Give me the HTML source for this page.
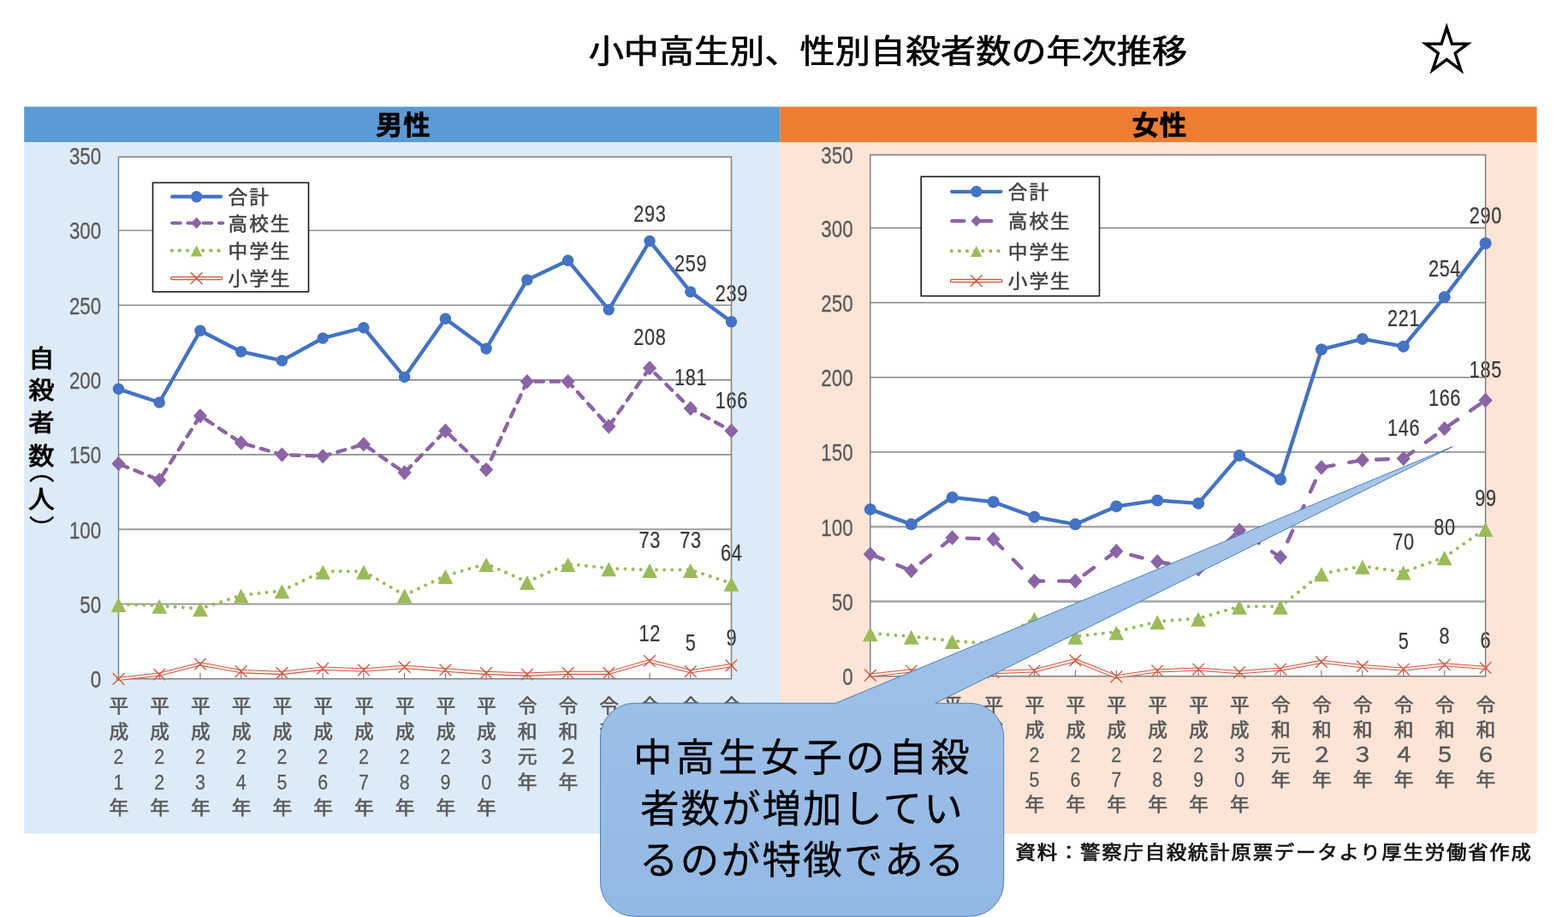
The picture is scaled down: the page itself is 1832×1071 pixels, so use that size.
<!DOCTYPE html>
<html lang="ja">
<head>
<meta charset="utf-8">
<title>小中高生別、性別自殺者数の年次推移</title>
<style>html,body{margin:0;padding:0;background:#fff;}body{width:1832px;height:1071px;overflow:hidden;}svg{display:block;}text{white-space:pre;}</style>
</head>
<body>
<svg width="1832" height="1071" viewBox="0 0 1832 1071">
<defs><linearGradient id="cg" x1="0" y1="0" x2="0" y2="1"><stop offset="0" stop-color="#A8C6EA"/><stop offset="1" stop-color="#92B9E4"/></linearGradient></defs>
<rect width="1832" height="1071" fill="#fff"/>
<text transform="translate(1037.40,72.50) scale(1.0945,1)" text-anchor="middle" font-family='"Liberation Sans", "Noto Sans CJK JP", sans-serif' font-size="37.6" font-weight="normal" fill="#000" stroke="#000" stroke-width="0.7" stroke-linejoin="round">小中高生別、性別自殺者数の年次推移</text>
<text x="1690.2" y="82" text-anchor="middle" font-family='"Liberation Sans", "IPAGothic", "Noto Sans CJK JP", sans-serif' font-size="67" fill="#000">☆</text>
<rect x="28.2" y="124.6" width="883" height="41.6" fill="#5B9BD5"/>
<rect x="28.2" y="166.2" width="883" height="807.3" fill="#DDEBF7"/>
<rect x="911.2" y="124.6" width="884.4" height="41.6" fill="#ED7D31"/>
<rect x="911.2" y="166.2" width="884.4" height="807.3" fill="#FCE4D6"/>
<text transform="translate(471.30,157.20) scale(1.04,1)" text-anchor="middle" font-family='"Liberation Sans", "Noto Sans CJK JP", sans-serif' font-size="30.3" font-weight="bold" fill="#000" letter-spacing="0.8" stroke="#000" stroke-width="0.6">男性</text>
<text transform="translate(1354.80,157.20) scale(1.04,1)" text-anchor="middle" font-family='"Liberation Sans", "Noto Sans CJK JP", sans-serif' font-size="30.3" font-weight="bold" fill="#000" letter-spacing="0.8" stroke="#000" stroke-width="0.6">女性</text>
<g><text transform="translate(48.40,428.70) scale(1.08,1)" text-anchor="middle" font-family='"Liberation Sans", "Noto Sans CJK JP", sans-serif' font-size="28.0" font-weight="normal" fill="#000" stroke="#000" stroke-width="0.95" stroke-linejoin="round">自</text><text transform="translate(48.40,466.30) scale(1.08,1)" text-anchor="middle" font-family='"Liberation Sans", "Noto Sans CJK JP", sans-serif' font-size="28.0" font-weight="normal" fill="#000" stroke="#000" stroke-width="0.95" stroke-linejoin="round">殺</text><text transform="translate(48.40,504.30) scale(1.08,1)" text-anchor="middle" font-family='"Liberation Sans", "Noto Sans CJK JP", sans-serif' font-size="28.0" font-weight="normal" fill="#000" stroke="#000" stroke-width="0.95" stroke-linejoin="round">者</text><text transform="translate(48.40,543.40) scale(1.08,1)" text-anchor="middle" font-family='"Liberation Sans", "Noto Sans CJK JP", sans-serif' font-size="28.0" font-weight="normal" fill="#000" stroke="#000" stroke-width="0.95" stroke-linejoin="round">数</text><text x="46.3" y="533.8" text-anchor="start" style="writing-mode:vertical-rl" font-family='"Liberation Sans", "Noto Sans CJK JP", sans-serif' font-size="29.5" fill="#000" stroke="#000" stroke-width="0.35" stroke-linejoin="round">（</text><text transform="translate(48.40,594.40) scale(1.06,1)" text-anchor="middle" font-family='"Liberation Sans", "Noto Sans CJK JP", sans-serif' font-size="29.0" font-weight="normal" fill="#000" stroke="#000" stroke-width="0.95" stroke-linejoin="round">人</text><text x="46.3" y="602.2" text-anchor="start" style="writing-mode:vertical-rl" font-family='"Liberation Sans", "Noto Sans CJK JP", sans-serif' font-size="29.5" fill="#000" stroke="#000" stroke-width="0.35" stroke-linejoin="round">）</text></g>
<rect x="138.5" y="183.3" width="716.0" height="609.5" fill="#fff"/>
<line x1="138.5" y1="705.52" x2="854.5" y2="705.52" stroke="#9c9c9c" stroke-width="2.1"/>
<line x1="138.5" y1="618.25" x2="854.5" y2="618.25" stroke="#9c9c9c" stroke-width="2.1"/>
<line x1="138.5" y1="530.97" x2="854.5" y2="530.97" stroke="#9c9c9c" stroke-width="2.1"/>
<line x1="138.5" y1="443.70" x2="854.5" y2="443.70" stroke="#7d7d7d" stroke-width="1.4"/>
<line x1="138.5" y1="356.42" x2="854.5" y2="356.42" stroke="#7d7d7d" stroke-width="1.4"/>
<line x1="138.5" y1="269.15" x2="854.5" y2="269.15" stroke="#7d7d7d" stroke-width="1.4"/>
<text transform="translate(118.20,803.10) scale(0.813,1)" text-anchor="end" font-family='"Liberation Sans", "Noto Sans CJK JP", sans-serif' font-size="27.5" fill="#595959" stroke="#595959" stroke-width="0.25" letter-spacing="0">0</text>
<text transform="translate(118.20,715.82) scale(0.813,1)" text-anchor="end" font-family='"Liberation Sans", "Noto Sans CJK JP", sans-serif' font-size="27.5" fill="#595959" stroke="#595959" stroke-width="0.25" letter-spacing="0">50</text>
<text transform="translate(118.20,628.55) scale(0.813,1)" text-anchor="end" font-family='"Liberation Sans", "Noto Sans CJK JP", sans-serif' font-size="27.5" fill="#595959" stroke="#595959" stroke-width="0.25" letter-spacing="0">100</text>
<text transform="translate(118.20,541.27) scale(0.813,1)" text-anchor="end" font-family='"Liberation Sans", "Noto Sans CJK JP", sans-serif' font-size="27.5" fill="#595959" stroke="#595959" stroke-width="0.25" letter-spacing="0">150</text>
<text transform="translate(118.20,454.00) scale(0.813,1)" text-anchor="end" font-family='"Liberation Sans", "Noto Sans CJK JP", sans-serif' font-size="27.5" fill="#595959" stroke="#595959" stroke-width="0.25" letter-spacing="0">200</text>
<text transform="translate(118.20,366.72) scale(0.813,1)" text-anchor="end" font-family='"Liberation Sans", "Noto Sans CJK JP", sans-serif' font-size="27.5" fill="#595959" stroke="#595959" stroke-width="0.25" letter-spacing="0">250</text>
<text transform="translate(118.20,279.45) scale(0.813,1)" text-anchor="end" font-family='"Liberation Sans", "Noto Sans CJK JP", sans-serif' font-size="27.5" fill="#595959" stroke="#595959" stroke-width="0.25" letter-spacing="0">300</text>
<text transform="translate(118.20,192.10) scale(0.813,1)" text-anchor="end" font-family='"Liberation Sans", "Noto Sans CJK JP", sans-serif' font-size="27.5" fill="#595959" stroke="#595959" stroke-width="0.25" letter-spacing="0">350</text>
<g><text transform="translate(138.90,832.30) scale(1.07,1)" text-anchor="middle" font-family='"Liberation Sans", "Noto Sans CJK JP", sans-serif' font-size="21.3" font-weight="normal" fill="#595959" stroke="#595959" stroke-width="0.6">平</text><text transform="translate(138.90,861.85) scale(1.07,1)" text-anchor="middle" font-family='"Liberation Sans", "Noto Sans CJK JP", sans-serif' font-size="21.3" font-weight="normal" fill="#595959" stroke="#595959" stroke-width="0.6">成</text><text transform="translate(138.50,892.10) scale(0.875,1)" text-anchor="middle" font-family='"Liberation Sans", "Noto Sans CJK JP", sans-serif' font-size="24.5" fill="#595959" stroke="#595959" stroke-width="0.25" letter-spacing="0">2</text><text transform="translate(138.50,921.65) scale(0.875,1)" text-anchor="middle" font-family='"Liberation Sans", "Noto Sans CJK JP", sans-serif' font-size="24.5" fill="#595959" stroke="#595959" stroke-width="0.25" letter-spacing="0">1</text><text transform="translate(138.90,950.50) scale(1.07,1)" text-anchor="middle" font-family='"Liberation Sans", "Noto Sans CJK JP", sans-serif' font-size="21.3" font-weight="normal" fill="#595959" stroke="#595959" stroke-width="0.6">年</text></g>
<g><text transform="translate(186.63,832.30) scale(1.07,1)" text-anchor="middle" font-family='"Liberation Sans", "Noto Sans CJK JP", sans-serif' font-size="21.3" font-weight="normal" fill="#595959" stroke="#595959" stroke-width="0.6">平</text><text transform="translate(186.63,861.85) scale(1.07,1)" text-anchor="middle" font-family='"Liberation Sans", "Noto Sans CJK JP", sans-serif' font-size="21.3" font-weight="normal" fill="#595959" stroke="#595959" stroke-width="0.6">成</text><text transform="translate(186.23,892.10) scale(0.875,1)" text-anchor="middle" font-family='"Liberation Sans", "Noto Sans CJK JP", sans-serif' font-size="24.5" fill="#595959" stroke="#595959" stroke-width="0.25" letter-spacing="0">2</text><text transform="translate(186.23,921.65) scale(0.875,1)" text-anchor="middle" font-family='"Liberation Sans", "Noto Sans CJK JP", sans-serif' font-size="24.5" fill="#595959" stroke="#595959" stroke-width="0.25" letter-spacing="0">2</text><text transform="translate(186.63,950.50) scale(1.07,1)" text-anchor="middle" font-family='"Liberation Sans", "Noto Sans CJK JP", sans-serif' font-size="21.3" font-weight="normal" fill="#595959" stroke="#595959" stroke-width="0.6">年</text></g>
<g><text transform="translate(234.37,832.30) scale(1.07,1)" text-anchor="middle" font-family='"Liberation Sans", "Noto Sans CJK JP", sans-serif' font-size="21.3" font-weight="normal" fill="#595959" stroke="#595959" stroke-width="0.6">平</text><text transform="translate(234.37,861.85) scale(1.07,1)" text-anchor="middle" font-family='"Liberation Sans", "Noto Sans CJK JP", sans-serif' font-size="21.3" font-weight="normal" fill="#595959" stroke="#595959" stroke-width="0.6">成</text><text transform="translate(233.97,892.10) scale(0.875,1)" text-anchor="middle" font-family='"Liberation Sans", "Noto Sans CJK JP", sans-serif' font-size="24.5" fill="#595959" stroke="#595959" stroke-width="0.25" letter-spacing="0">2</text><text transform="translate(233.97,921.65) scale(0.875,1)" text-anchor="middle" font-family='"Liberation Sans", "Noto Sans CJK JP", sans-serif' font-size="24.5" fill="#595959" stroke="#595959" stroke-width="0.25" letter-spacing="0">3</text><text transform="translate(234.37,950.50) scale(1.07,1)" text-anchor="middle" font-family='"Liberation Sans", "Noto Sans CJK JP", sans-serif' font-size="21.3" font-weight="normal" fill="#595959" stroke="#595959" stroke-width="0.6">年</text></g>
<g><text transform="translate(282.10,832.30) scale(1.07,1)" text-anchor="middle" font-family='"Liberation Sans", "Noto Sans CJK JP", sans-serif' font-size="21.3" font-weight="normal" fill="#595959" stroke="#595959" stroke-width="0.6">平</text><text transform="translate(282.10,861.85) scale(1.07,1)" text-anchor="middle" font-family='"Liberation Sans", "Noto Sans CJK JP", sans-serif' font-size="21.3" font-weight="normal" fill="#595959" stroke="#595959" stroke-width="0.6">成</text><text transform="translate(281.70,892.10) scale(0.875,1)" text-anchor="middle" font-family='"Liberation Sans", "Noto Sans CJK JP", sans-serif' font-size="24.5" fill="#595959" stroke="#595959" stroke-width="0.25" letter-spacing="0">2</text><text transform="translate(281.70,921.65) scale(0.875,1)" text-anchor="middle" font-family='"Liberation Sans", "Noto Sans CJK JP", sans-serif' font-size="24.5" fill="#595959" stroke="#595959" stroke-width="0.25" letter-spacing="0">4</text><text transform="translate(282.10,950.50) scale(1.07,1)" text-anchor="middle" font-family='"Liberation Sans", "Noto Sans CJK JP", sans-serif' font-size="21.3" font-weight="normal" fill="#595959" stroke="#595959" stroke-width="0.6">年</text></g>
<g><text transform="translate(329.83,832.30) scale(1.07,1)" text-anchor="middle" font-family='"Liberation Sans", "Noto Sans CJK JP", sans-serif' font-size="21.3" font-weight="normal" fill="#595959" stroke="#595959" stroke-width="0.6">平</text><text transform="translate(329.83,861.85) scale(1.07,1)" text-anchor="middle" font-family='"Liberation Sans", "Noto Sans CJK JP", sans-serif' font-size="21.3" font-weight="normal" fill="#595959" stroke="#595959" stroke-width="0.6">成</text><text transform="translate(329.43,892.10) scale(0.875,1)" text-anchor="middle" font-family='"Liberation Sans", "Noto Sans CJK JP", sans-serif' font-size="24.5" fill="#595959" stroke="#595959" stroke-width="0.25" letter-spacing="0">2</text><text transform="translate(329.43,921.65) scale(0.875,1)" text-anchor="middle" font-family='"Liberation Sans", "Noto Sans CJK JP", sans-serif' font-size="24.5" fill="#595959" stroke="#595959" stroke-width="0.25" letter-spacing="0">5</text><text transform="translate(329.83,950.50) scale(1.07,1)" text-anchor="middle" font-family='"Liberation Sans", "Noto Sans CJK JP", sans-serif' font-size="21.3" font-weight="normal" fill="#595959" stroke="#595959" stroke-width="0.6">年</text></g>
<g><text transform="translate(377.57,832.30) scale(1.07,1)" text-anchor="middle" font-family='"Liberation Sans", "Noto Sans CJK JP", sans-serif' font-size="21.3" font-weight="normal" fill="#595959" stroke="#595959" stroke-width="0.6">平</text><text transform="translate(377.57,861.85) scale(1.07,1)" text-anchor="middle" font-family='"Liberation Sans", "Noto Sans CJK JP", sans-serif' font-size="21.3" font-weight="normal" fill="#595959" stroke="#595959" stroke-width="0.6">成</text><text transform="translate(377.17,892.10) scale(0.875,1)" text-anchor="middle" font-family='"Liberation Sans", "Noto Sans CJK JP", sans-serif' font-size="24.5" fill="#595959" stroke="#595959" stroke-width="0.25" letter-spacing="0">2</text><text transform="translate(377.17,921.65) scale(0.875,1)" text-anchor="middle" font-family='"Liberation Sans", "Noto Sans CJK JP", sans-serif' font-size="24.5" fill="#595959" stroke="#595959" stroke-width="0.25" letter-spacing="0">6</text><text transform="translate(377.57,950.50) scale(1.07,1)" text-anchor="middle" font-family='"Liberation Sans", "Noto Sans CJK JP", sans-serif' font-size="21.3" font-weight="normal" fill="#595959" stroke="#595959" stroke-width="0.6">年</text></g>
<g><text transform="translate(425.30,832.30) scale(1.07,1)" text-anchor="middle" font-family='"Liberation Sans", "Noto Sans CJK JP", sans-serif' font-size="21.3" font-weight="normal" fill="#595959" stroke="#595959" stroke-width="0.6">平</text><text transform="translate(425.30,861.85) scale(1.07,1)" text-anchor="middle" font-family='"Liberation Sans", "Noto Sans CJK JP", sans-serif' font-size="21.3" font-weight="normal" fill="#595959" stroke="#595959" stroke-width="0.6">成</text><text transform="translate(424.90,892.10) scale(0.875,1)" text-anchor="middle" font-family='"Liberation Sans", "Noto Sans CJK JP", sans-serif' font-size="24.5" fill="#595959" stroke="#595959" stroke-width="0.25" letter-spacing="0">2</text><text transform="translate(424.90,921.65) scale(0.875,1)" text-anchor="middle" font-family='"Liberation Sans", "Noto Sans CJK JP", sans-serif' font-size="24.5" fill="#595959" stroke="#595959" stroke-width="0.25" letter-spacing="0">7</text><text transform="translate(425.30,950.50) scale(1.07,1)" text-anchor="middle" font-family='"Liberation Sans", "Noto Sans CJK JP", sans-serif' font-size="21.3" font-weight="normal" fill="#595959" stroke="#595959" stroke-width="0.6">年</text></g>
<g><text transform="translate(473.03,832.30) scale(1.07,1)" text-anchor="middle" font-family='"Liberation Sans", "Noto Sans CJK JP", sans-serif' font-size="21.3" font-weight="normal" fill="#595959" stroke="#595959" stroke-width="0.6">平</text><text transform="translate(473.03,861.85) scale(1.07,1)" text-anchor="middle" font-family='"Liberation Sans", "Noto Sans CJK JP", sans-serif' font-size="21.3" font-weight="normal" fill="#595959" stroke="#595959" stroke-width="0.6">成</text><text transform="translate(472.63,892.10) scale(0.875,1)" text-anchor="middle" font-family='"Liberation Sans", "Noto Sans CJK JP", sans-serif' font-size="24.5" fill="#595959" stroke="#595959" stroke-width="0.25" letter-spacing="0">2</text><text transform="translate(472.63,921.65) scale(0.875,1)" text-anchor="middle" font-family='"Liberation Sans", "Noto Sans CJK JP", sans-serif' font-size="24.5" fill="#595959" stroke="#595959" stroke-width="0.25" letter-spacing="0">8</text><text transform="translate(473.03,950.50) scale(1.07,1)" text-anchor="middle" font-family='"Liberation Sans", "Noto Sans CJK JP", sans-serif' font-size="21.3" font-weight="normal" fill="#595959" stroke="#595959" stroke-width="0.6">年</text></g>
<g><text transform="translate(520.77,832.30) scale(1.07,1)" text-anchor="middle" font-family='"Liberation Sans", "Noto Sans CJK JP", sans-serif' font-size="21.3" font-weight="normal" fill="#595959" stroke="#595959" stroke-width="0.6">平</text><text transform="translate(520.77,861.85) scale(1.07,1)" text-anchor="middle" font-family='"Liberation Sans", "Noto Sans CJK JP", sans-serif' font-size="21.3" font-weight="normal" fill="#595959" stroke="#595959" stroke-width="0.6">成</text><text transform="translate(520.37,892.10) scale(0.875,1)" text-anchor="middle" font-family='"Liberation Sans", "Noto Sans CJK JP", sans-serif' font-size="24.5" fill="#595959" stroke="#595959" stroke-width="0.25" letter-spacing="0">2</text><text transform="translate(520.37,921.65) scale(0.875,1)" text-anchor="middle" font-family='"Liberation Sans", "Noto Sans CJK JP", sans-serif' font-size="24.5" fill="#595959" stroke="#595959" stroke-width="0.25" letter-spacing="0">9</text><text transform="translate(520.77,950.50) scale(1.07,1)" text-anchor="middle" font-family='"Liberation Sans", "Noto Sans CJK JP", sans-serif' font-size="21.3" font-weight="normal" fill="#595959" stroke="#595959" stroke-width="0.6">年</text></g>
<g><text transform="translate(568.50,832.30) scale(1.07,1)" text-anchor="middle" font-family='"Liberation Sans", "Noto Sans CJK JP", sans-serif' font-size="21.3" font-weight="normal" fill="#595959" stroke="#595959" stroke-width="0.6">平</text><text transform="translate(568.50,861.85) scale(1.07,1)" text-anchor="middle" font-family='"Liberation Sans", "Noto Sans CJK JP", sans-serif' font-size="21.3" font-weight="normal" fill="#595959" stroke="#595959" stroke-width="0.6">成</text><text transform="translate(568.10,892.10) scale(0.875,1)" text-anchor="middle" font-family='"Liberation Sans", "Noto Sans CJK JP", sans-serif' font-size="24.5" fill="#595959" stroke="#595959" stroke-width="0.25" letter-spacing="0">3</text><text transform="translate(568.10,921.65) scale(0.875,1)" text-anchor="middle" font-family='"Liberation Sans", "Noto Sans CJK JP", sans-serif' font-size="24.5" fill="#595959" stroke="#595959" stroke-width="0.25" letter-spacing="0">0</text><text transform="translate(568.50,950.50) scale(1.07,1)" text-anchor="middle" font-family='"Liberation Sans", "Noto Sans CJK JP", sans-serif' font-size="21.3" font-weight="normal" fill="#595959" stroke="#595959" stroke-width="0.6">年</text></g>
<g><text transform="translate(616.23,832.30) scale(1.07,1)" text-anchor="middle" font-family='"Liberation Sans", "Noto Sans CJK JP", sans-serif' font-size="21.3" font-weight="normal" fill="#595959" stroke="#595959" stroke-width="0.6">令</text><text transform="translate(616.23,861.85) scale(1.07,1)" text-anchor="middle" font-family='"Liberation Sans", "Noto Sans CJK JP", sans-serif' font-size="21.3" font-weight="normal" fill="#595959" stroke="#595959" stroke-width="0.6">和</text><text transform="translate(616.23,891.40) scale(1.07,1)" text-anchor="middle" font-family='"Liberation Sans", "Noto Sans CJK JP", sans-serif' font-size="21.3" font-weight="normal" fill="#595959" stroke="#595959" stroke-width="0.6">元</text><text transform="translate(616.23,920.95) scale(1.07,1)" text-anchor="middle" font-family='"Liberation Sans", "Noto Sans CJK JP", sans-serif' font-size="21.3" font-weight="normal" fill="#595959" stroke="#595959" stroke-width="0.6">年</text></g>
<g><text transform="translate(663.97,832.30) scale(1.07,1)" text-anchor="middle" font-family='"Liberation Sans", "Noto Sans CJK JP", sans-serif' font-size="21.3" font-weight="normal" fill="#595959" stroke="#595959" stroke-width="0.6">令</text><text transform="translate(663.97,861.85) scale(1.07,1)" text-anchor="middle" font-family='"Liberation Sans", "Noto Sans CJK JP", sans-serif' font-size="21.3" font-weight="normal" fill="#595959" stroke="#595959" stroke-width="0.6">和</text><text transform="translate(663.97,892.00) scale(1.07,1)" text-anchor="middle" font-family='"Liberation Sans", "Noto Sans CJK JP", sans-serif' font-size="24.069" font-weight="normal" fill="#595959" stroke="#595959" stroke-width="0.55">２</text><text transform="translate(663.97,920.95) scale(1.07,1)" text-anchor="middle" font-family='"Liberation Sans", "Noto Sans CJK JP", sans-serif' font-size="21.3" font-weight="normal" fill="#595959" stroke="#595959" stroke-width="0.6">年</text></g>
<g><text transform="translate(711.70,832.30) scale(1.07,1)" text-anchor="middle" font-family='"Liberation Sans", "Noto Sans CJK JP", sans-serif' font-size="21.3" font-weight="normal" fill="#595959" stroke="#595959" stroke-width="0.6">令</text><text transform="translate(711.70,861.85) scale(1.07,1)" text-anchor="middle" font-family='"Liberation Sans", "Noto Sans CJK JP", sans-serif' font-size="21.3" font-weight="normal" fill="#595959" stroke="#595959" stroke-width="0.6">和</text><text transform="translate(711.70,892.00) scale(1.07,1)" text-anchor="middle" font-family='"Liberation Sans", "Noto Sans CJK JP", sans-serif' font-size="24.069" font-weight="normal" fill="#595959" stroke="#595959" stroke-width="0.55">３</text><text transform="translate(711.70,920.95) scale(1.07,1)" text-anchor="middle" font-family='"Liberation Sans", "Noto Sans CJK JP", sans-serif' font-size="21.3" font-weight="normal" fill="#595959" stroke="#595959" stroke-width="0.6">年</text></g>
<g><text transform="translate(759.43,832.30) scale(1.07,1)" text-anchor="middle" font-family='"Liberation Sans", "Noto Sans CJK JP", sans-serif' font-size="21.3" font-weight="normal" fill="#595959" stroke="#595959" stroke-width="0.6">令</text><text transform="translate(759.43,861.85) scale(1.07,1)" text-anchor="middle" font-family='"Liberation Sans", "Noto Sans CJK JP", sans-serif' font-size="21.3" font-weight="normal" fill="#595959" stroke="#595959" stroke-width="0.6">和</text><text transform="translate(759.43,892.00) scale(1.07,1)" text-anchor="middle" font-family='"Liberation Sans", "Noto Sans CJK JP", sans-serif' font-size="24.069" font-weight="normal" fill="#595959" stroke="#595959" stroke-width="0.55">４</text><text transform="translate(759.43,920.95) scale(1.07,1)" text-anchor="middle" font-family='"Liberation Sans", "Noto Sans CJK JP", sans-serif' font-size="21.3" font-weight="normal" fill="#595959" stroke="#595959" stroke-width="0.6">年</text></g>
<g><text transform="translate(807.17,832.30) scale(1.07,1)" text-anchor="middle" font-family='"Liberation Sans", "Noto Sans CJK JP", sans-serif' font-size="21.3" font-weight="normal" fill="#595959" stroke="#595959" stroke-width="0.6">令</text><text transform="translate(807.17,861.85) scale(1.07,1)" text-anchor="middle" font-family='"Liberation Sans", "Noto Sans CJK JP", sans-serif' font-size="21.3" font-weight="normal" fill="#595959" stroke="#595959" stroke-width="0.6">和</text><text transform="translate(807.17,892.00) scale(1.07,1)" text-anchor="middle" font-family='"Liberation Sans", "Noto Sans CJK JP", sans-serif' font-size="24.069" font-weight="normal" fill="#595959" stroke="#595959" stroke-width="0.55">５</text><text transform="translate(807.17,920.95) scale(1.07,1)" text-anchor="middle" font-family='"Liberation Sans", "Noto Sans CJK JP", sans-serif' font-size="21.3" font-weight="normal" fill="#595959" stroke="#595959" stroke-width="0.6">年</text></g>
<g><text transform="translate(854.90,832.30) scale(1.07,1)" text-anchor="middle" font-family='"Liberation Sans", "Noto Sans CJK JP", sans-serif' font-size="21.3" font-weight="normal" fill="#595959" stroke="#595959" stroke-width="0.6">令</text><text transform="translate(854.90,861.85) scale(1.07,1)" text-anchor="middle" font-family='"Liberation Sans", "Noto Sans CJK JP", sans-serif' font-size="21.3" font-weight="normal" fill="#595959" stroke="#595959" stroke-width="0.6">和</text><text transform="translate(854.90,892.00) scale(1.07,1)" text-anchor="middle" font-family='"Liberation Sans", "Noto Sans CJK JP", sans-serif' font-size="24.069" font-weight="normal" fill="#595959" stroke="#595959" stroke-width="0.55">６</text><text transform="translate(854.90,920.95) scale(1.07,1)" text-anchor="middle" font-family='"Liberation Sans", "Noto Sans CJK JP", sans-serif' font-size="21.3" font-weight="normal" fill="#595959" stroke="#595959" stroke-width="0.6">年</text></g>
<text transform="translate(759.33,258.85) scale(0.79,1)" text-anchor="middle" font-family='"Liberation Sans", "Noto Sans CJK JP", sans-serif' font-size="27.5" fill="#3a3a3a" stroke="#3a3a3a" stroke-width="0.25" letter-spacing="0.8">293</text>
<text transform="translate(807.07,317.40) scale(0.79,1)" text-anchor="middle" font-family='"Liberation Sans", "Noto Sans CJK JP", sans-serif' font-size="27.5" fill="#3a3a3a" stroke="#3a3a3a" stroke-width="0.25" letter-spacing="0.8">259</text>
<text transform="translate(854.80,352.20) scale(0.79,1)" text-anchor="middle" font-family='"Liberation Sans", "Noto Sans CJK JP", sans-serif' font-size="27.5" fill="#3a3a3a" stroke="#3a3a3a" stroke-width="0.25" letter-spacing="0.8">239</text>
<text transform="translate(759.33,403.20) scale(0.79,1)" text-anchor="middle" font-family='"Liberation Sans", "Noto Sans CJK JP", sans-serif' font-size="27.5" fill="#3a3a3a" stroke="#3a3a3a" stroke-width="0.25" letter-spacing="0.8">208</text>
<text transform="translate(807.07,450.40) scale(0.79,1)" text-anchor="middle" font-family='"Liberation Sans", "Noto Sans CJK JP", sans-serif' font-size="27.5" fill="#3a3a3a" stroke="#3a3a3a" stroke-width="0.25" letter-spacing="0.8">181</text>
<text transform="translate(854.80,476.80) scale(0.79,1)" text-anchor="middle" font-family='"Liberation Sans", "Noto Sans CJK JP", sans-serif' font-size="27.5" fill="#3a3a3a" stroke="#3a3a3a" stroke-width="0.25" letter-spacing="0.8">166</text>
<text transform="translate(759.33,639.50) scale(0.79,1)" text-anchor="middle" font-family='"Liberation Sans", "Noto Sans CJK JP", sans-serif' font-size="27.5" fill="#3a3a3a" stroke="#3a3a3a" stroke-width="0.25" letter-spacing="0.8">73</text>
<text transform="translate(807.07,639.50) scale(0.79,1)" text-anchor="middle" font-family='"Liberation Sans", "Noto Sans CJK JP", sans-serif' font-size="27.5" fill="#3a3a3a" stroke="#3a3a3a" stroke-width="0.25" letter-spacing="0.8">73</text>
<text transform="translate(854.80,655.20) scale(0.79,1)" text-anchor="middle" font-family='"Liberation Sans", "Noto Sans CJK JP", sans-serif' font-size="27.5" fill="#3a3a3a" stroke="#3a3a3a" stroke-width="0.25" letter-spacing="0.8">64</text>
<text transform="translate(759.33,749.00) scale(0.79,1)" text-anchor="middle" font-family='"Liberation Sans", "Noto Sans CJK JP", sans-serif' font-size="27.5" fill="#3a3a3a" stroke="#3a3a3a" stroke-width="0.25" letter-spacing="0.8">12</text>
<text transform="translate(807.07,759.80) scale(0.79,1)" text-anchor="middle" font-family='"Liberation Sans", "Noto Sans CJK JP", sans-serif' font-size="27.5" fill="#3a3a3a" stroke="#3a3a3a" stroke-width="0.25" letter-spacing="0.8">5</text>
<text transform="translate(854.80,753.60) scale(0.79,1)" text-anchor="middle" font-family='"Liberation Sans", "Noto Sans CJK JP", sans-serif' font-size="27.5" fill="#3a3a3a" stroke="#3a3a3a" stroke-width="0.25" letter-spacing="0.8">9</text>
<rect x="138.5" y="183.3" width="716.0" height="609.5" fill="none" stroke="#808080" stroke-width="1.5"/>
<line x1="186.23" y1="792.8" x2="186.23" y2="785.8" stroke="#707070" stroke-width="1.1"/>
<line x1="233.97" y1="792.8" x2="233.97" y2="785.8" stroke="#707070" stroke-width="1.1"/>
<line x1="281.70" y1="792.8" x2="281.70" y2="785.8" stroke="#707070" stroke-width="1.1"/>
<line x1="329.43" y1="792.8" x2="329.43" y2="785.8" stroke="#707070" stroke-width="1.1"/>
<line x1="377.17" y1="792.8" x2="377.17" y2="785.8" stroke="#707070" stroke-width="1.1"/>
<line x1="424.90" y1="792.8" x2="424.90" y2="785.8" stroke="#707070" stroke-width="1.1"/>
<line x1="472.63" y1="792.8" x2="472.63" y2="785.8" stroke="#707070" stroke-width="1.1"/>
<line x1="520.37" y1="792.8" x2="520.37" y2="785.8" stroke="#707070" stroke-width="1.1"/>
<line x1="568.10" y1="792.8" x2="568.10" y2="785.8" stroke="#707070" stroke-width="1.1"/>
<line x1="615.83" y1="792.8" x2="615.83" y2="785.8" stroke="#707070" stroke-width="1.1"/>
<line x1="663.57" y1="792.8" x2="663.57" y2="785.8" stroke="#707070" stroke-width="1.1"/>
<line x1="711.30" y1="792.8" x2="711.30" y2="785.8" stroke="#707070" stroke-width="1.1"/>
<line x1="759.03" y1="792.8" x2="759.03" y2="785.8" stroke="#707070" stroke-width="1.1"/>
<line x1="806.77" y1="792.8" x2="806.77" y2="785.8" stroke="#707070" stroke-width="1.1"/>
<polyline points="138.50,454.32 186.23,470.03 233.97,386.25 281.70,410.69 329.43,421.16 377.17,394.98 424.90,382.76 472.63,440.36 520.37,372.28 568.10,407.19 615.83,326.90 663.57,304.21 711.30,361.81 759.03,281.52 806.77,340.87 854.50,375.78" fill="none" stroke="#4472C4" stroke-width="4.35" stroke-linejoin="round" stroke-linecap="round"/>
<circle cx="138.50" cy="454.32" r="6.7" fill="#4472C4"/>
<circle cx="186.23" cy="470.03" r="6.7" fill="#4472C4"/>
<circle cx="233.97" cy="386.25" r="6.7" fill="#4472C4"/>
<circle cx="281.70" cy="410.69" r="6.7" fill="#4472C4"/>
<circle cx="329.43" cy="421.16" r="6.7" fill="#4472C4"/>
<circle cx="377.17" cy="394.98" r="6.7" fill="#4472C4"/>
<circle cx="424.90" cy="382.76" r="6.7" fill="#4472C4"/>
<circle cx="472.63" cy="440.36" r="6.7" fill="#4472C4"/>
<circle cx="520.37" cy="372.28" r="6.7" fill="#4472C4"/>
<circle cx="568.10" cy="407.19" r="6.7" fill="#4472C4"/>
<circle cx="615.83" cy="326.90" r="6.7" fill="#4472C4"/>
<circle cx="663.57" cy="304.21" r="6.7" fill="#4472C4"/>
<circle cx="711.30" cy="361.81" r="6.7" fill="#4472C4"/>
<circle cx="759.03" cy="281.52" r="6.7" fill="#4472C4"/>
<circle cx="806.77" cy="340.87" r="6.7" fill="#4472C4"/>
<circle cx="854.50" cy="375.78" r="6.7" fill="#4472C4"/>
<polyline points="138.50,541.60 186.23,560.80 233.97,485.74 281.70,517.16 329.43,531.12 377.17,532.87 424.90,518.91 472.63,552.07 520.37,503.20 568.10,548.58 615.83,445.60 663.57,445.60 711.30,497.96 759.03,429.89 806.77,477.01 854.50,503.20" fill="none" stroke="#8B64A6" stroke-width="4.35" stroke-linejoin="round" stroke-linecap="round" stroke-dasharray="9.36 8.92" stroke-dashoffset="-2.17"/>
<polygon points="138.50,532.90 146.60,541.60 138.50,550.30 130.40,541.60" fill="#8B64A6"/>
<polygon points="186.23,552.10 194.33,560.80 186.23,569.50 178.13,560.80" fill="#8B64A6"/>
<polygon points="233.97,477.04 242.07,485.74 233.97,494.44 225.87,485.74" fill="#8B64A6"/>
<polygon points="281.70,508.46 289.80,517.16 281.70,525.86 273.60,517.16" fill="#8B64A6"/>
<polygon points="329.43,522.42 337.53,531.12 329.43,539.82 321.33,531.12" fill="#8B64A6"/>
<polygon points="377.17,524.17 385.27,532.87 377.17,541.57 369.07,532.87" fill="#8B64A6"/>
<polygon points="424.90,510.21 433.00,518.91 424.90,527.61 416.80,518.91" fill="#8B64A6"/>
<polygon points="472.63,543.37 480.73,552.07 472.63,560.77 464.53,552.07" fill="#8B64A6"/>
<polygon points="520.37,494.50 528.47,503.20 520.37,511.90 512.27,503.20" fill="#8B64A6"/>
<polygon points="568.10,539.88 576.20,548.58 568.10,557.28 560.00,548.58" fill="#8B64A6"/>
<polygon points="615.83,436.90 623.93,445.60 615.83,454.30 607.73,445.60" fill="#8B64A6"/>
<polygon points="663.57,436.90 671.67,445.60 663.57,454.30 655.47,445.60" fill="#8B64A6"/>
<polygon points="711.30,489.26 719.40,497.96 711.30,506.66 703.20,497.96" fill="#8B64A6"/>
<polygon points="759.03,421.19 767.13,429.89 759.03,438.59 750.93,429.89" fill="#8B64A6"/>
<polygon points="806.77,468.31 814.87,477.01 806.77,485.71 798.67,477.01" fill="#8B64A6"/>
<polygon points="854.50,494.50 862.60,503.20 854.50,511.90 846.40,503.20" fill="#8B64A6"/>
<polyline points="138.50,705.67 186.23,707.42 233.97,710.91 281.70,695.20 329.43,689.97 377.17,667.27 424.90,667.27 472.63,695.20 520.37,672.51 568.10,658.55 615.83,679.49 663.57,658.55 711.30,663.78 759.03,665.53 806.77,665.53 854.50,681.24" fill="none" stroke="#9BBB59" stroke-width="4.0" stroke-linejoin="round" stroke-linecap="round" stroke-dasharray="0.01 9.13" stroke-dashoffset="-2.28"/>
<polygon points="138.50,698.07 147.40,715.07 129.60,715.07" fill="#9BBB59"/>
<polygon points="186.23,699.82 195.13,716.82 177.33,716.82" fill="#9BBB59"/>
<polygon points="233.97,703.31 242.87,720.31 225.07,720.31" fill="#9BBB59"/>
<polygon points="281.70,687.60 290.60,704.60 272.80,704.60" fill="#9BBB59"/>
<polygon points="329.43,682.37 338.33,699.37 320.53,699.37" fill="#9BBB59"/>
<polygon points="377.17,659.67 386.07,676.67 368.27,676.67" fill="#9BBB59"/>
<polygon points="424.90,659.67 433.80,676.67 416.00,676.67" fill="#9BBB59"/>
<polygon points="472.63,687.60 481.53,704.60 463.73,704.60" fill="#9BBB59"/>
<polygon points="520.37,664.91 529.27,681.91 511.47,681.91" fill="#9BBB59"/>
<polygon points="568.10,650.95 577.00,667.95 559.20,667.95" fill="#9BBB59"/>
<polygon points="615.83,671.89 624.73,688.89 606.93,688.89" fill="#9BBB59"/>
<polygon points="663.57,650.95 672.47,667.95 654.67,667.95" fill="#9BBB59"/>
<polygon points="711.30,656.18 720.20,673.18 702.40,673.18" fill="#9BBB59"/>
<polygon points="759.03,657.93 767.93,674.93 750.13,674.93" fill="#9BBB59"/>
<polygon points="806.77,657.93 815.67,674.93 797.87,674.93" fill="#9BBB59"/>
<polygon points="854.50,673.64 863.40,690.64 845.60,690.64" fill="#9BBB59"/>
<polyline points="138.50,792.95 186.23,787.71 233.97,775.49 281.70,784.22 329.43,785.97 377.17,780.73 424.90,782.48 472.63,778.99 520.37,782.48 568.10,785.97 615.83,787.71 663.57,785.97 711.30,785.97 759.03,772.00 806.77,784.22 854.50,777.24" fill="none" stroke="#D25A43" stroke-width="4.35" stroke-linejoin="round" stroke-linecap="round"/>
<polyline points="138.50,792.95 186.23,787.71 233.97,775.49 281.70,784.22 329.43,785.97 377.17,780.73 424.90,782.48 472.63,778.99 520.37,782.48 568.10,785.97 615.83,787.71 663.57,785.97 711.30,785.97 759.03,772.00 806.77,784.22 854.50,777.24" fill="none" stroke="#FCEDE8" stroke-width="2.3" stroke-linejoin="round" stroke-linecap="round"/>
<path d="M131.70 786.15L145.30 799.75M131.70 799.75L145.30 786.15" stroke="#D25A43" stroke-width="1.4" fill="none"/>
<path d="M179.43 780.91L193.03 794.51M179.43 794.51L193.03 780.91" stroke="#D25A43" stroke-width="1.4" fill="none"/>
<path d="M227.17 768.69L240.77 782.29M227.17 782.29L240.77 768.69" stroke="#D25A43" stroke-width="1.4" fill="none"/>
<path d="M274.90 777.42L288.50 791.02M274.90 791.02L288.50 777.42" stroke="#D25A43" stroke-width="1.4" fill="none"/>
<path d="M322.63 779.17L336.23 792.77M322.63 792.77L336.23 779.17" stroke="#D25A43" stroke-width="1.4" fill="none"/>
<path d="M370.37 773.93L383.97 787.53M370.37 787.53L383.97 773.93" stroke="#D25A43" stroke-width="1.4" fill="none"/>
<path d="M418.10 775.68L431.70 789.28M418.10 789.28L431.70 775.68" stroke="#D25A43" stroke-width="1.4" fill="none"/>
<path d="M465.83 772.19L479.43 785.79M465.83 785.79L479.43 772.19" stroke="#D25A43" stroke-width="1.4" fill="none"/>
<path d="M513.57 775.68L527.17 789.28M513.57 789.28L527.17 775.68" stroke="#D25A43" stroke-width="1.4" fill="none"/>
<path d="M561.30 779.17L574.90 792.77M561.30 792.77L574.90 779.17" stroke="#D25A43" stroke-width="1.4" fill="none"/>
<path d="M609.03 780.91L622.63 794.51M609.03 794.51L622.63 780.91" stroke="#D25A43" stroke-width="1.4" fill="none"/>
<path d="M656.77 779.17L670.37 792.77M656.77 792.77L670.37 779.17" stroke="#D25A43" stroke-width="1.4" fill="none"/>
<path d="M704.50 779.17L718.10 792.77M704.50 792.77L718.10 779.17" stroke="#D25A43" stroke-width="1.4" fill="none"/>
<path d="M752.23 765.20L765.83 778.80M752.23 778.80L765.83 765.20" stroke="#D25A43" stroke-width="1.4" fill="none"/>
<path d="M799.97 777.42L813.57 791.02M799.97 791.02L813.57 777.42" stroke="#D25A43" stroke-width="1.4" fill="none"/>
<path d="M847.70 770.44L861.30 784.04M847.70 784.04L861.30 770.44" stroke="#D25A43" stroke-width="1.4" fill="none"/>
<rect x="178.5" y="213.4" width="182.0" height="127.4" fill="#fff" stroke="#1a1a1a" stroke-width="1.6"/>
<line x1="201.1" y1="229.7" x2="258.09999999999997" y2="229.7" stroke="#4472C4" stroke-width="4.2" stroke-linecap="round"/>
<circle cx="229.6" cy="229.7" r="6.7" fill="#4472C4"/>
<line x1="199" y1="260.5" x2="260.2" y2="260.5" stroke="#8B64A6" stroke-width="4.2" stroke-linecap="round" stroke-dasharray="9.5 8.8" stroke-dashoffset="-2.2"/>
<polygon points="229.6,253.8 235.79999999999998,260.5 229.6,267.2 223.4,260.5" fill="#8B64A6"/>
<line x1="199" y1="292.7" x2="260.2" y2="292.7" stroke="#9BBB59" stroke-width="4.2" stroke-linecap="round" stroke-dasharray="0.01 9.1" stroke-dashoffset="-1.8"/>
<polygon points="229.6,286.5 236.29999999999998,299.5 222.9,299.5" fill="#9BBB59"/>
<line x1="201.1" y1="325.0" x2="258.09999999999997" y2="325.0" stroke="#D25A43" stroke-width="4.6" stroke-linecap="round"/>
<line x1="201.1" y1="325.0" x2="258.09999999999997" y2="325.0" stroke="#F8DDD5" stroke-width="2.0" stroke-linecap="round"/>
<path d="M222.79999999999998 318.2L236.4 331.8M222.79999999999998 331.8L236.4 318.2" stroke="#D25A43" stroke-width="1.5" fill="none"/>
<text transform="translate(266.60,238.00) scale(1.07,1)" text-anchor="start" font-family='"Liberation Sans", "Noto Sans CJK JP", sans-serif' font-size="21.2" font-weight="normal" fill="#404040" letter-spacing="1.8" stroke="#404040" stroke-width="0.5">合計</text>
<text transform="translate(266.60,268.80) scale(1.07,1)" text-anchor="start" font-family='"Liberation Sans", "Noto Sans CJK JP", sans-serif' font-size="21.2" font-weight="normal" fill="#404040" letter-spacing="1.8" stroke="#404040" stroke-width="0.5">高校生</text>
<text transform="translate(266.60,301.00) scale(1.07,1)" text-anchor="start" font-family='"Liberation Sans", "Noto Sans CJK JP", sans-serif' font-size="21.2" font-weight="normal" fill="#404040" letter-spacing="1.8" stroke="#404040" stroke-width="0.5">中学生</text>
<text transform="translate(266.60,333.30) scale(1.07,1)" text-anchor="start" font-family='"Liberation Sans", "Noto Sans CJK JP", sans-serif' font-size="21.2" font-weight="normal" fill="#404040" letter-spacing="1.8" stroke="#404040" stroke-width="0.5">小学生</text>
<rect x="1016.8" y="180.9" width="718.8" height="608.9" fill="#fff"/>
<line x1="1016.8" y1="702.52" x2="1735.6" y2="702.52" stroke="#a6a6a6" stroke-width="2.3"/>
<line x1="1016.8" y1="615.25" x2="1735.6" y2="615.25" stroke="#a6a6a6" stroke-width="2.3"/>
<line x1="1016.8" y1="527.97" x2="1735.6" y2="527.97" stroke="#858585" stroke-width="1.5"/>
<line x1="1016.8" y1="440.70" x2="1735.6" y2="440.70" stroke="#858585" stroke-width="1.5"/>
<line x1="1016.8" y1="353.42" x2="1735.6" y2="353.42" stroke="#858585" stroke-width="1.5"/>
<line x1="1016.8" y1="266.15" x2="1735.6" y2="266.15" stroke="#858585" stroke-width="1.5"/>
<text transform="translate(996.60,800.20) scale(0.813,1)" text-anchor="end" font-family='"Liberation Sans", "Noto Sans CJK JP", sans-serif' font-size="27.5" fill="#595959" stroke="#595959" stroke-width="0.25" letter-spacing="0">0</text>
<text transform="translate(996.60,712.92) scale(0.813,1)" text-anchor="end" font-family='"Liberation Sans", "Noto Sans CJK JP", sans-serif' font-size="27.5" fill="#595959" stroke="#595959" stroke-width="0.25" letter-spacing="0">50</text>
<text transform="translate(996.60,625.65) scale(0.813,1)" text-anchor="end" font-family='"Liberation Sans", "Noto Sans CJK JP", sans-serif' font-size="27.5" fill="#595959" stroke="#595959" stroke-width="0.25" letter-spacing="0">100</text>
<text transform="translate(996.60,538.37) scale(0.813,1)" text-anchor="end" font-family='"Liberation Sans", "Noto Sans CJK JP", sans-serif' font-size="27.5" fill="#595959" stroke="#595959" stroke-width="0.25" letter-spacing="0">150</text>
<text transform="translate(996.60,451.10) scale(0.813,1)" text-anchor="end" font-family='"Liberation Sans", "Noto Sans CJK JP", sans-serif' font-size="27.5" fill="#595959" stroke="#595959" stroke-width="0.25" letter-spacing="0">200</text>
<text transform="translate(996.60,363.82) scale(0.813,1)" text-anchor="end" font-family='"Liberation Sans", "Noto Sans CJK JP", sans-serif' font-size="27.5" fill="#595959" stroke="#595959" stroke-width="0.25" letter-spacing="0">250</text>
<text transform="translate(996.60,276.55) scale(0.813,1)" text-anchor="end" font-family='"Liberation Sans", "Noto Sans CJK JP", sans-serif' font-size="27.5" fill="#595959" stroke="#595959" stroke-width="0.25" letter-spacing="0">300</text>
<text transform="translate(996.60,190.50) scale(0.813,1)" text-anchor="end" font-family='"Liberation Sans", "Noto Sans CJK JP", sans-serif' font-size="27.5" fill="#595959" stroke="#595959" stroke-width="0.25" letter-spacing="0">350</text>
<g><text transform="translate(1017.20,830.60) scale(1.07,1)" text-anchor="middle" font-family='"Liberation Sans", "Noto Sans CJK JP", sans-serif' font-size="21.3" font-weight="normal" fill="#595959" stroke="#595959" stroke-width="0.6">平</text><text transform="translate(1017.20,859.80) scale(1.07,1)" text-anchor="middle" font-family='"Liberation Sans", "Noto Sans CJK JP", sans-serif' font-size="21.3" font-weight="normal" fill="#595959" stroke="#595959" stroke-width="0.6">成</text><text transform="translate(1016.80,889.70) scale(0.875,1)" text-anchor="middle" font-family='"Liberation Sans", "Noto Sans CJK JP", sans-serif' font-size="24.5" fill="#595959" stroke="#595959" stroke-width="0.25" letter-spacing="0">2</text><text transform="translate(1016.80,918.90) scale(0.875,1)" text-anchor="middle" font-family='"Liberation Sans", "Noto Sans CJK JP", sans-serif' font-size="24.5" fill="#595959" stroke="#595959" stroke-width="0.25" letter-spacing="0">1</text><text transform="translate(1017.20,947.40) scale(1.07,1)" text-anchor="middle" font-family='"Liberation Sans", "Noto Sans CJK JP", sans-serif' font-size="21.3" font-weight="normal" fill="#595959" stroke="#595959" stroke-width="0.6">年</text></g>
<g><text transform="translate(1065.12,830.60) scale(1.07,1)" text-anchor="middle" font-family='"Liberation Sans", "Noto Sans CJK JP", sans-serif' font-size="21.3" font-weight="normal" fill="#595959" stroke="#595959" stroke-width="0.6">平</text><text transform="translate(1065.12,859.80) scale(1.07,1)" text-anchor="middle" font-family='"Liberation Sans", "Noto Sans CJK JP", sans-serif' font-size="21.3" font-weight="normal" fill="#595959" stroke="#595959" stroke-width="0.6">成</text><text transform="translate(1064.72,889.70) scale(0.875,1)" text-anchor="middle" font-family='"Liberation Sans", "Noto Sans CJK JP", sans-serif' font-size="24.5" fill="#595959" stroke="#595959" stroke-width="0.25" letter-spacing="0">2</text><text transform="translate(1064.72,918.90) scale(0.875,1)" text-anchor="middle" font-family='"Liberation Sans", "Noto Sans CJK JP", sans-serif' font-size="24.5" fill="#595959" stroke="#595959" stroke-width="0.25" letter-spacing="0">2</text><text transform="translate(1065.12,947.40) scale(1.07,1)" text-anchor="middle" font-family='"Liberation Sans", "Noto Sans CJK JP", sans-serif' font-size="21.3" font-weight="normal" fill="#595959" stroke="#595959" stroke-width="0.6">年</text></g>
<g><text transform="translate(1113.04,830.60) scale(1.07,1)" text-anchor="middle" font-family='"Liberation Sans", "Noto Sans CJK JP", sans-serif' font-size="21.3" font-weight="normal" fill="#595959" stroke="#595959" stroke-width="0.6">平</text><text transform="translate(1113.04,859.80) scale(1.07,1)" text-anchor="middle" font-family='"Liberation Sans", "Noto Sans CJK JP", sans-serif' font-size="21.3" font-weight="normal" fill="#595959" stroke="#595959" stroke-width="0.6">成</text><text transform="translate(1112.64,889.70) scale(0.875,1)" text-anchor="middle" font-family='"Liberation Sans", "Noto Sans CJK JP", sans-serif' font-size="24.5" fill="#595959" stroke="#595959" stroke-width="0.25" letter-spacing="0">2</text><text transform="translate(1112.64,918.90) scale(0.875,1)" text-anchor="middle" font-family='"Liberation Sans", "Noto Sans CJK JP", sans-serif' font-size="24.5" fill="#595959" stroke="#595959" stroke-width="0.25" letter-spacing="0">3</text><text transform="translate(1113.04,947.40) scale(1.07,1)" text-anchor="middle" font-family='"Liberation Sans", "Noto Sans CJK JP", sans-serif' font-size="21.3" font-weight="normal" fill="#595959" stroke="#595959" stroke-width="0.6">年</text></g>
<g><text transform="translate(1160.96,830.60) scale(1.07,1)" text-anchor="middle" font-family='"Liberation Sans", "Noto Sans CJK JP", sans-serif' font-size="21.3" font-weight="normal" fill="#595959" stroke="#595959" stroke-width="0.6">平</text><text transform="translate(1160.96,859.80) scale(1.07,1)" text-anchor="middle" font-family='"Liberation Sans", "Noto Sans CJK JP", sans-serif' font-size="21.3" font-weight="normal" fill="#595959" stroke="#595959" stroke-width="0.6">成</text><text transform="translate(1160.56,889.70) scale(0.875,1)" text-anchor="middle" font-family='"Liberation Sans", "Noto Sans CJK JP", sans-serif' font-size="24.5" fill="#595959" stroke="#595959" stroke-width="0.25" letter-spacing="0">2</text><text transform="translate(1160.56,918.90) scale(0.875,1)" text-anchor="middle" font-family='"Liberation Sans", "Noto Sans CJK JP", sans-serif' font-size="24.5" fill="#595959" stroke="#595959" stroke-width="0.25" letter-spacing="0">4</text><text transform="translate(1160.96,947.40) scale(1.07,1)" text-anchor="middle" font-family='"Liberation Sans", "Noto Sans CJK JP", sans-serif' font-size="21.3" font-weight="normal" fill="#595959" stroke="#595959" stroke-width="0.6">年</text></g>
<g><text transform="translate(1208.88,830.60) scale(1.07,1)" text-anchor="middle" font-family='"Liberation Sans", "Noto Sans CJK JP", sans-serif' font-size="21.3" font-weight="normal" fill="#595959" stroke="#595959" stroke-width="0.6">平</text><text transform="translate(1208.88,859.80) scale(1.07,1)" text-anchor="middle" font-family='"Liberation Sans", "Noto Sans CJK JP", sans-serif' font-size="21.3" font-weight="normal" fill="#595959" stroke="#595959" stroke-width="0.6">成</text><text transform="translate(1208.48,889.70) scale(0.875,1)" text-anchor="middle" font-family='"Liberation Sans", "Noto Sans CJK JP", sans-serif' font-size="24.5" fill="#595959" stroke="#595959" stroke-width="0.25" letter-spacing="0">2</text><text transform="translate(1208.48,918.90) scale(0.875,1)" text-anchor="middle" font-family='"Liberation Sans", "Noto Sans CJK JP", sans-serif' font-size="24.5" fill="#595959" stroke="#595959" stroke-width="0.25" letter-spacing="0">5</text><text transform="translate(1208.88,947.40) scale(1.07,1)" text-anchor="middle" font-family='"Liberation Sans", "Noto Sans CJK JP", sans-serif' font-size="21.3" font-weight="normal" fill="#595959" stroke="#595959" stroke-width="0.6">年</text></g>
<g><text transform="translate(1256.80,830.60) scale(1.07,1)" text-anchor="middle" font-family='"Liberation Sans", "Noto Sans CJK JP", sans-serif' font-size="21.3" font-weight="normal" fill="#595959" stroke="#595959" stroke-width="0.6">平</text><text transform="translate(1256.80,859.80) scale(1.07,1)" text-anchor="middle" font-family='"Liberation Sans", "Noto Sans CJK JP", sans-serif' font-size="21.3" font-weight="normal" fill="#595959" stroke="#595959" stroke-width="0.6">成</text><text transform="translate(1256.40,889.70) scale(0.875,1)" text-anchor="middle" font-family='"Liberation Sans", "Noto Sans CJK JP", sans-serif' font-size="24.5" fill="#595959" stroke="#595959" stroke-width="0.25" letter-spacing="0">2</text><text transform="translate(1256.40,918.90) scale(0.875,1)" text-anchor="middle" font-family='"Liberation Sans", "Noto Sans CJK JP", sans-serif' font-size="24.5" fill="#595959" stroke="#595959" stroke-width="0.25" letter-spacing="0">6</text><text transform="translate(1256.80,947.40) scale(1.07,1)" text-anchor="middle" font-family='"Liberation Sans", "Noto Sans CJK JP", sans-serif' font-size="21.3" font-weight="normal" fill="#595959" stroke="#595959" stroke-width="0.6">年</text></g>
<g><text transform="translate(1304.72,830.60) scale(1.07,1)" text-anchor="middle" font-family='"Liberation Sans", "Noto Sans CJK JP", sans-serif' font-size="21.3" font-weight="normal" fill="#595959" stroke="#595959" stroke-width="0.6">平</text><text transform="translate(1304.72,859.80) scale(1.07,1)" text-anchor="middle" font-family='"Liberation Sans", "Noto Sans CJK JP", sans-serif' font-size="21.3" font-weight="normal" fill="#595959" stroke="#595959" stroke-width="0.6">成</text><text transform="translate(1304.32,889.70) scale(0.875,1)" text-anchor="middle" font-family='"Liberation Sans", "Noto Sans CJK JP", sans-serif' font-size="24.5" fill="#595959" stroke="#595959" stroke-width="0.25" letter-spacing="0">2</text><text transform="translate(1304.32,918.90) scale(0.875,1)" text-anchor="middle" font-family='"Liberation Sans", "Noto Sans CJK JP", sans-serif' font-size="24.5" fill="#595959" stroke="#595959" stroke-width="0.25" letter-spacing="0">7</text><text transform="translate(1304.72,947.40) scale(1.07,1)" text-anchor="middle" font-family='"Liberation Sans", "Noto Sans CJK JP", sans-serif' font-size="21.3" font-weight="normal" fill="#595959" stroke="#595959" stroke-width="0.6">年</text></g>
<g><text transform="translate(1352.64,830.60) scale(1.07,1)" text-anchor="middle" font-family='"Liberation Sans", "Noto Sans CJK JP", sans-serif' font-size="21.3" font-weight="normal" fill="#595959" stroke="#595959" stroke-width="0.6">平</text><text transform="translate(1352.64,859.80) scale(1.07,1)" text-anchor="middle" font-family='"Liberation Sans", "Noto Sans CJK JP", sans-serif' font-size="21.3" font-weight="normal" fill="#595959" stroke="#595959" stroke-width="0.6">成</text><text transform="translate(1352.24,889.70) scale(0.875,1)" text-anchor="middle" font-family='"Liberation Sans", "Noto Sans CJK JP", sans-serif' font-size="24.5" fill="#595959" stroke="#595959" stroke-width="0.25" letter-spacing="0">2</text><text transform="translate(1352.24,918.90) scale(0.875,1)" text-anchor="middle" font-family='"Liberation Sans", "Noto Sans CJK JP", sans-serif' font-size="24.5" fill="#595959" stroke="#595959" stroke-width="0.25" letter-spacing="0">8</text><text transform="translate(1352.64,947.40) scale(1.07,1)" text-anchor="middle" font-family='"Liberation Sans", "Noto Sans CJK JP", sans-serif' font-size="21.3" font-weight="normal" fill="#595959" stroke="#595959" stroke-width="0.6">年</text></g>
<g><text transform="translate(1400.56,830.60) scale(1.07,1)" text-anchor="middle" font-family='"Liberation Sans", "Noto Sans CJK JP", sans-serif' font-size="21.3" font-weight="normal" fill="#595959" stroke="#595959" stroke-width="0.6">平</text><text transform="translate(1400.56,859.80) scale(1.07,1)" text-anchor="middle" font-family='"Liberation Sans", "Noto Sans CJK JP", sans-serif' font-size="21.3" font-weight="normal" fill="#595959" stroke="#595959" stroke-width="0.6">成</text><text transform="translate(1400.16,889.70) scale(0.875,1)" text-anchor="middle" font-family='"Liberation Sans", "Noto Sans CJK JP", sans-serif' font-size="24.5" fill="#595959" stroke="#595959" stroke-width="0.25" letter-spacing="0">2</text><text transform="translate(1400.16,918.90) scale(0.875,1)" text-anchor="middle" font-family='"Liberation Sans", "Noto Sans CJK JP", sans-serif' font-size="24.5" fill="#595959" stroke="#595959" stroke-width="0.25" letter-spacing="0">9</text><text transform="translate(1400.56,947.40) scale(1.07,1)" text-anchor="middle" font-family='"Liberation Sans", "Noto Sans CJK JP", sans-serif' font-size="21.3" font-weight="normal" fill="#595959" stroke="#595959" stroke-width="0.6">年</text></g>
<g><text transform="translate(1448.48,830.60) scale(1.07,1)" text-anchor="middle" font-family='"Liberation Sans", "Noto Sans CJK JP", sans-serif' font-size="21.3" font-weight="normal" fill="#595959" stroke="#595959" stroke-width="0.6">平</text><text transform="translate(1448.48,859.80) scale(1.07,1)" text-anchor="middle" font-family='"Liberation Sans", "Noto Sans CJK JP", sans-serif' font-size="21.3" font-weight="normal" fill="#595959" stroke="#595959" stroke-width="0.6">成</text><text transform="translate(1448.08,889.70) scale(0.875,1)" text-anchor="middle" font-family='"Liberation Sans", "Noto Sans CJK JP", sans-serif' font-size="24.5" fill="#595959" stroke="#595959" stroke-width="0.25" letter-spacing="0">3</text><text transform="translate(1448.08,918.90) scale(0.875,1)" text-anchor="middle" font-family='"Liberation Sans", "Noto Sans CJK JP", sans-serif' font-size="24.5" fill="#595959" stroke="#595959" stroke-width="0.25" letter-spacing="0">0</text><text transform="translate(1448.48,947.40) scale(1.07,1)" text-anchor="middle" font-family='"Liberation Sans", "Noto Sans CJK JP", sans-serif' font-size="21.3" font-weight="normal" fill="#595959" stroke="#595959" stroke-width="0.6">年</text></g>
<g><text transform="translate(1496.40,830.60) scale(1.07,1)" text-anchor="middle" font-family='"Liberation Sans", "Noto Sans CJK JP", sans-serif' font-size="21.3" font-weight="normal" fill="#595959" stroke="#595959" stroke-width="0.6">令</text><text transform="translate(1496.40,859.80) scale(1.07,1)" text-anchor="middle" font-family='"Liberation Sans", "Noto Sans CJK JP", sans-serif' font-size="21.3" font-weight="normal" fill="#595959" stroke="#595959" stroke-width="0.6">和</text><text transform="translate(1496.40,889.00) scale(1.07,1)" text-anchor="middle" font-family='"Liberation Sans", "Noto Sans CJK JP", sans-serif' font-size="21.3" font-weight="normal" fill="#595959" stroke="#595959" stroke-width="0.6">元</text><text transform="translate(1496.40,918.20) scale(1.07,1)" text-anchor="middle" font-family='"Liberation Sans", "Noto Sans CJK JP", sans-serif' font-size="21.3" font-weight="normal" fill="#595959" stroke="#595959" stroke-width="0.6">年</text></g>
<g><text transform="translate(1544.32,830.60) scale(1.07,1)" text-anchor="middle" font-family='"Liberation Sans", "Noto Sans CJK JP", sans-serif' font-size="21.3" font-weight="normal" fill="#595959" stroke="#595959" stroke-width="0.6">令</text><text transform="translate(1544.32,859.80) scale(1.07,1)" text-anchor="middle" font-family='"Liberation Sans", "Noto Sans CJK JP", sans-serif' font-size="21.3" font-weight="normal" fill="#595959" stroke="#595959" stroke-width="0.6">和</text><text transform="translate(1544.32,889.60) scale(1.07,1)" text-anchor="middle" font-family='"Liberation Sans", "Noto Sans CJK JP", sans-serif' font-size="24.069" font-weight="normal" fill="#595959" stroke="#595959" stroke-width="0.55">２</text><text transform="translate(1544.32,918.20) scale(1.07,1)" text-anchor="middle" font-family='"Liberation Sans", "Noto Sans CJK JP", sans-serif' font-size="21.3" font-weight="normal" fill="#595959" stroke="#595959" stroke-width="0.6">年</text></g>
<g><text transform="translate(1592.24,830.60) scale(1.07,1)" text-anchor="middle" font-family='"Liberation Sans", "Noto Sans CJK JP", sans-serif' font-size="21.3" font-weight="normal" fill="#595959" stroke="#595959" stroke-width="0.6">令</text><text transform="translate(1592.24,859.80) scale(1.07,1)" text-anchor="middle" font-family='"Liberation Sans", "Noto Sans CJK JP", sans-serif' font-size="21.3" font-weight="normal" fill="#595959" stroke="#595959" stroke-width="0.6">和</text><text transform="translate(1592.24,889.60) scale(1.07,1)" text-anchor="middle" font-family='"Liberation Sans", "Noto Sans CJK JP", sans-serif' font-size="24.069" font-weight="normal" fill="#595959" stroke="#595959" stroke-width="0.55">３</text><text transform="translate(1592.24,918.20) scale(1.07,1)" text-anchor="middle" font-family='"Liberation Sans", "Noto Sans CJK JP", sans-serif' font-size="21.3" font-weight="normal" fill="#595959" stroke="#595959" stroke-width="0.6">年</text></g>
<g><text transform="translate(1640.16,830.60) scale(1.07,1)" text-anchor="middle" font-family='"Liberation Sans", "Noto Sans CJK JP", sans-serif' font-size="21.3" font-weight="normal" fill="#595959" stroke="#595959" stroke-width="0.6">令</text><text transform="translate(1640.16,859.80) scale(1.07,1)" text-anchor="middle" font-family='"Liberation Sans", "Noto Sans CJK JP", sans-serif' font-size="21.3" font-weight="normal" fill="#595959" stroke="#595959" stroke-width="0.6">和</text><text transform="translate(1640.16,889.60) scale(1.07,1)" text-anchor="middle" font-family='"Liberation Sans", "Noto Sans CJK JP", sans-serif' font-size="24.069" font-weight="normal" fill="#595959" stroke="#595959" stroke-width="0.55">４</text><text transform="translate(1640.16,918.20) scale(1.07,1)" text-anchor="middle" font-family='"Liberation Sans", "Noto Sans CJK JP", sans-serif' font-size="21.3" font-weight="normal" fill="#595959" stroke="#595959" stroke-width="0.6">年</text></g>
<g><text transform="translate(1688.08,830.60) scale(1.07,1)" text-anchor="middle" font-family='"Liberation Sans", "Noto Sans CJK JP", sans-serif' font-size="21.3" font-weight="normal" fill="#595959" stroke="#595959" stroke-width="0.6">令</text><text transform="translate(1688.08,859.80) scale(1.07,1)" text-anchor="middle" font-family='"Liberation Sans", "Noto Sans CJK JP", sans-serif' font-size="21.3" font-weight="normal" fill="#595959" stroke="#595959" stroke-width="0.6">和</text><text transform="translate(1688.08,889.60) scale(1.07,1)" text-anchor="middle" font-family='"Liberation Sans", "Noto Sans CJK JP", sans-serif' font-size="24.069" font-weight="normal" fill="#595959" stroke="#595959" stroke-width="0.55">５</text><text transform="translate(1688.08,918.20) scale(1.07,1)" text-anchor="middle" font-family='"Liberation Sans", "Noto Sans CJK JP", sans-serif' font-size="21.3" font-weight="normal" fill="#595959" stroke="#595959" stroke-width="0.6">年</text></g>
<g><text transform="translate(1736.00,830.60) scale(1.07,1)" text-anchor="middle" font-family='"Liberation Sans", "Noto Sans CJK JP", sans-serif' font-size="21.3" font-weight="normal" fill="#595959" stroke="#595959" stroke-width="0.6">令</text><text transform="translate(1736.00,859.80) scale(1.07,1)" text-anchor="middle" font-family='"Liberation Sans", "Noto Sans CJK JP", sans-serif' font-size="21.3" font-weight="normal" fill="#595959" stroke="#595959" stroke-width="0.6">和</text><text transform="translate(1736.00,889.60) scale(1.07,1)" text-anchor="middle" font-family='"Liberation Sans", "Noto Sans CJK JP", sans-serif' font-size="24.069" font-weight="normal" fill="#595959" stroke="#595959" stroke-width="0.55">６</text><text transform="translate(1736.00,918.20) scale(1.07,1)" text-anchor="middle" font-family='"Liberation Sans", "Noto Sans CJK JP", sans-serif' font-size="21.3" font-weight="normal" fill="#595959" stroke="#595959" stroke-width="0.6">年</text></g>
<text transform="translate(1640.06,381.10) scale(0.79,1)" text-anchor="middle" font-family='"Liberation Sans", "Noto Sans CJK JP", sans-serif' font-size="27.5" fill="#3a3a3a" stroke="#3a3a3a" stroke-width="0.25" letter-spacing="0.8">221</text>
<text transform="translate(1687.98,323.20) scale(0.79,1)" text-anchor="middle" font-family='"Liberation Sans", "Noto Sans CJK JP", sans-serif' font-size="27.5" fill="#3a3a3a" stroke="#3a3a3a" stroke-width="0.25" letter-spacing="0.8">254</text>
<text transform="translate(1735.90,261.00) scale(0.79,1)" text-anchor="middle" font-family='"Liberation Sans", "Noto Sans CJK JP", sans-serif' font-size="27.5" fill="#3a3a3a" stroke="#3a3a3a" stroke-width="0.25" letter-spacing="0.8">290</text>
<text transform="translate(1640.06,509.40) scale(0.79,1)" text-anchor="middle" font-family='"Liberation Sans", "Noto Sans CJK JP", sans-serif' font-size="27.5" fill="#3a3a3a" stroke="#3a3a3a" stroke-width="0.25" letter-spacing="0.8">146</text>
<text transform="translate(1687.98,473.60) scale(0.79,1)" text-anchor="middle" font-family='"Liberation Sans", "Noto Sans CJK JP", sans-serif' font-size="27.5" fill="#3a3a3a" stroke="#3a3a3a" stroke-width="0.25" letter-spacing="0.8">166</text>
<text transform="translate(1735.90,441.30) scale(0.79,1)" text-anchor="middle" font-family='"Liberation Sans", "Noto Sans CJK JP", sans-serif' font-size="27.5" fill="#3a3a3a" stroke="#3a3a3a" stroke-width="0.25" letter-spacing="0.8">185</text>
<text transform="translate(1640.06,642.40) scale(0.79,1)" text-anchor="middle" font-family='"Liberation Sans", "Noto Sans CJK JP", sans-serif' font-size="27.5" fill="#3a3a3a" stroke="#3a3a3a" stroke-width="0.25" letter-spacing="0.8">70</text>
<text transform="translate(1687.98,625.30) scale(0.79,1)" text-anchor="middle" font-family='"Liberation Sans", "Noto Sans CJK JP", sans-serif' font-size="27.5" fill="#3a3a3a" stroke="#3a3a3a" stroke-width="0.25" letter-spacing="0.8">80</text>
<text transform="translate(1735.90,591.30) scale(0.79,1)" text-anchor="middle" font-family='"Liberation Sans", "Noto Sans CJK JP", sans-serif' font-size="27.5" fill="#3a3a3a" stroke="#3a3a3a" stroke-width="0.25" letter-spacing="0.8">99</text>
<text transform="translate(1640.06,757.80) scale(0.79,1)" text-anchor="middle" font-family='"Liberation Sans", "Noto Sans CJK JP", sans-serif' font-size="27.5" fill="#3a3a3a" stroke="#3a3a3a" stroke-width="0.25" letter-spacing="0.8">5</text>
<text transform="translate(1687.98,751.90) scale(0.79,1)" text-anchor="middle" font-family='"Liberation Sans", "Noto Sans CJK JP", sans-serif' font-size="27.5" fill="#3a3a3a" stroke="#3a3a3a" stroke-width="0.25" letter-spacing="0.8">8</text>
<text transform="translate(1735.90,756.70) scale(0.79,1)" text-anchor="middle" font-family='"Liberation Sans", "Noto Sans CJK JP", sans-serif' font-size="27.5" fill="#3a3a3a" stroke="#3a3a3a" stroke-width="0.25" letter-spacing="0.8">6</text>
<rect x="1016.8" y="180.9" width="718.8" height="608.9" fill="none" stroke="#808080" stroke-width="1.5"/>
<line x1="1064.72" y1="789.8" x2="1064.72" y2="782.8" stroke="#707070" stroke-width="1.1"/>
<line x1="1112.64" y1="789.8" x2="1112.64" y2="782.8" stroke="#707070" stroke-width="1.1"/>
<line x1="1160.56" y1="789.8" x2="1160.56" y2="782.8" stroke="#707070" stroke-width="1.1"/>
<line x1="1208.48" y1="789.8" x2="1208.48" y2="782.8" stroke="#707070" stroke-width="1.1"/>
<line x1="1256.40" y1="789.8" x2="1256.40" y2="782.8" stroke="#707070" stroke-width="1.1"/>
<line x1="1304.32" y1="789.8" x2="1304.32" y2="782.8" stroke="#707070" stroke-width="1.1"/>
<line x1="1352.24" y1="789.8" x2="1352.24" y2="782.8" stroke="#707070" stroke-width="1.1"/>
<line x1="1400.16" y1="789.8" x2="1400.16" y2="782.8" stroke="#707070" stroke-width="1.1"/>
<line x1="1448.08" y1="789.8" x2="1448.08" y2="782.8" stroke="#707070" stroke-width="1.1"/>
<line x1="1496.00" y1="789.8" x2="1496.00" y2="782.8" stroke="#707070" stroke-width="1.1"/>
<line x1="1543.92" y1="789.8" x2="1543.92" y2="782.8" stroke="#707070" stroke-width="1.1"/>
<line x1="1591.84" y1="789.8" x2="1591.84" y2="782.8" stroke="#707070" stroke-width="1.1"/>
<line x1="1639.76" y1="789.8" x2="1639.76" y2="782.8" stroke="#707070" stroke-width="1.1"/>
<line x1="1687.68" y1="789.8" x2="1687.68" y2="782.8" stroke="#707070" stroke-width="1.1"/>
<polyline points="1016.80,594.90 1064.72,612.36 1112.64,580.94 1160.56,586.18 1208.48,603.63 1256.40,612.36 1304.32,591.41 1352.24,584.43 1400.16,587.92 1448.08,532.07 1496.00,559.99 1543.92,408.14 1591.84,395.92 1639.76,404.64 1687.68,347.04 1735.60,284.20" fill="none" stroke="#4472C4" stroke-width="4.35" stroke-linejoin="round" stroke-linecap="round"/>
<circle cx="1016.80" cy="594.90" r="7.0" fill="#4472C4"/>
<circle cx="1064.72" cy="612.36" r="7.0" fill="#4472C4"/>
<circle cx="1112.64" cy="580.94" r="7.0" fill="#4472C4"/>
<circle cx="1160.56" cy="586.18" r="7.0" fill="#4472C4"/>
<circle cx="1208.48" cy="603.63" r="7.0" fill="#4472C4"/>
<circle cx="1256.40" cy="612.36" r="7.0" fill="#4472C4"/>
<circle cx="1304.32" cy="591.41" r="7.0" fill="#4472C4"/>
<circle cx="1352.24" cy="584.43" r="7.0" fill="#4472C4"/>
<circle cx="1400.16" cy="587.92" r="7.0" fill="#4472C4"/>
<circle cx="1448.08" cy="532.07" r="7.0" fill="#4472C4"/>
<circle cx="1496.00" cy="559.99" r="7.0" fill="#4472C4"/>
<circle cx="1543.92" cy="408.14" r="7.0" fill="#4472C4"/>
<circle cx="1591.84" cy="395.92" r="7.0" fill="#4472C4"/>
<circle cx="1639.76" cy="404.64" r="7.0" fill="#4472C4"/>
<circle cx="1687.68" cy="347.04" r="7.0" fill="#4472C4"/>
<circle cx="1735.60" cy="284.20" r="7.0" fill="#4472C4"/>
<polyline points="1016.80,647.27 1064.72,666.47 1112.64,628.07 1160.56,629.81 1208.48,678.69 1256.40,678.69 1304.32,643.78 1352.24,656.00 1400.16,664.72 1448.08,619.34 1496.00,650.76 1543.92,546.03 1591.84,537.30 1639.76,535.56 1687.68,500.65 1735.60,467.48" fill="none" stroke="#8B64A6" stroke-width="4.35" stroke-linejoin="round" stroke-linecap="round" stroke-dasharray="13.92 18.08" stroke-dashoffset="-2.17"/>
<polygon points="1016.80,638.57 1024.90,647.27 1016.80,655.97 1008.70,647.27" fill="#8B64A6"/>
<polygon points="1064.72,657.77 1072.82,666.47 1064.72,675.17 1056.62,666.47" fill="#8B64A6"/>
<polygon points="1112.64,619.37 1120.74,628.07 1112.64,636.77 1104.54,628.07" fill="#8B64A6"/>
<polygon points="1160.56,621.11 1168.66,629.81 1160.56,638.51 1152.46,629.81" fill="#8B64A6"/>
<polygon points="1208.48,669.99 1216.58,678.69 1208.48,687.39 1200.38,678.69" fill="#8B64A6"/>
<polygon points="1256.40,669.99 1264.50,678.69 1256.40,687.39 1248.30,678.69" fill="#8B64A6"/>
<polygon points="1304.32,635.08 1312.42,643.78 1304.32,652.48 1296.22,643.78" fill="#8B64A6"/>
<polygon points="1352.24,647.30 1360.34,656.00 1352.24,664.70 1344.14,656.00" fill="#8B64A6"/>
<polygon points="1400.16,656.02 1408.26,664.72 1400.16,673.42 1392.06,664.72" fill="#8B64A6"/>
<polygon points="1448.08,610.64 1456.18,619.34 1448.08,628.04 1439.98,619.34" fill="#8B64A6"/>
<polygon points="1496.00,642.06 1504.10,650.76 1496.00,659.46 1487.90,650.76" fill="#8B64A6"/>
<polygon points="1543.92,537.33 1552.02,546.03 1543.92,554.73 1535.82,546.03" fill="#8B64A6"/>
<polygon points="1591.84,528.60 1599.94,537.30 1591.84,546.00 1583.74,537.30" fill="#8B64A6"/>
<polygon points="1639.76,526.86 1647.86,535.56 1639.76,544.26 1631.66,535.56" fill="#8B64A6"/>
<polygon points="1687.68,491.95 1695.78,500.65 1687.68,509.35 1679.58,500.65" fill="#8B64A6"/>
<polygon points="1735.60,458.78 1743.70,467.48 1735.60,476.18 1727.50,467.48" fill="#8B64A6"/>
<polyline points="1016.80,739.78 1064.72,743.27 1112.64,748.51 1160.56,752.00 1208.48,722.33 1256.40,743.27 1304.32,738.03 1352.24,725.82 1400.16,722.33 1448.08,708.36 1496.00,708.36 1543.92,669.96 1591.84,661.23 1639.76,668.22 1687.68,650.76 1735.60,617.60" fill="none" stroke="#9BBB59" stroke-width="4.0" stroke-linejoin="round" stroke-linecap="round" stroke-dasharray="0.01 9.13" stroke-dashoffset="-2.28"/>
<polygon points="1016.80,732.18 1025.70,749.18 1007.90,749.18" fill="#9BBB59"/>
<polygon points="1064.72,735.67 1073.62,752.67 1055.82,752.67" fill="#9BBB59"/>
<polygon points="1112.64,740.91 1121.54,757.91 1103.74,757.91" fill="#9BBB59"/>
<polygon points="1160.56,744.40 1169.46,761.40 1151.66,761.40" fill="#9BBB59"/>
<polygon points="1208.48,714.73 1217.38,731.73 1199.58,731.73" fill="#9BBB59"/>
<polygon points="1256.40,735.67 1265.30,752.67 1247.50,752.67" fill="#9BBB59"/>
<polygon points="1304.32,730.43 1313.22,747.43 1295.42,747.43" fill="#9BBB59"/>
<polygon points="1352.24,718.22 1361.14,735.22 1343.34,735.22" fill="#9BBB59"/>
<polygon points="1400.16,714.73 1409.06,731.73 1391.26,731.73" fill="#9BBB59"/>
<polygon points="1448.08,700.76 1456.98,717.76 1439.18,717.76" fill="#9BBB59"/>
<polygon points="1496.00,700.76 1504.90,717.76 1487.10,717.76" fill="#9BBB59"/>
<polygon points="1543.92,662.36 1552.82,679.36 1535.02,679.36" fill="#9BBB59"/>
<polygon points="1591.84,653.63 1600.74,670.63 1582.94,670.63" fill="#9BBB59"/>
<polygon points="1639.76,660.62 1648.66,677.62 1630.86,677.62" fill="#9BBB59"/>
<polygon points="1687.68,643.16 1696.58,660.16 1678.78,660.16" fill="#9BBB59"/>
<polygon points="1735.60,610.00 1744.50,627.00 1726.70,627.00" fill="#9BBB59"/>
<polyline points="1016.80,788.65 1064.72,783.42 1112.64,785.16 1160.56,785.16 1208.48,783.42 1256.40,771.20 1304.32,790.40 1352.24,783.42 1400.16,781.67 1448.08,785.16 1496.00,781.67 1543.92,772.94 1591.84,778.18 1639.76,781.67 1687.68,776.44 1735.60,779.93" fill="none" stroke="#D25A43" stroke-width="4.35" stroke-linejoin="round" stroke-linecap="round"/>
<polyline points="1016.80,788.65 1064.72,783.42 1112.64,785.16 1160.56,785.16 1208.48,783.42 1256.40,771.20 1304.32,790.40 1352.24,783.42 1400.16,781.67 1448.08,785.16 1496.00,781.67 1543.92,772.94 1591.84,778.18 1639.76,781.67 1687.68,776.44 1735.60,779.93" fill="none" stroke="#FCEDE8" stroke-width="2.3" stroke-linejoin="round" stroke-linecap="round"/>
<path d="M1010.00 781.85L1023.60 795.45M1010.00 795.45L1023.60 781.85" stroke="#D25A43" stroke-width="1.4" fill="none"/>
<path d="M1057.92 776.62L1071.52 790.22M1057.92 790.22L1071.52 776.62" stroke="#D25A43" stroke-width="1.4" fill="none"/>
<path d="M1105.84 778.36L1119.44 791.96M1105.84 791.96L1119.44 778.36" stroke="#D25A43" stroke-width="1.4" fill="none"/>
<path d="M1153.76 778.36L1167.36 791.96M1153.76 791.96L1167.36 778.36" stroke="#D25A43" stroke-width="1.4" fill="none"/>
<path d="M1201.68 776.62L1215.28 790.22M1201.68 790.22L1215.28 776.62" stroke="#D25A43" stroke-width="1.4" fill="none"/>
<path d="M1249.60 764.40L1263.20 778.00M1249.60 778.00L1263.20 764.40" stroke="#D25A43" stroke-width="1.4" fill="none"/>
<path d="M1297.52 783.60L1311.12 797.20M1297.52 797.20L1311.12 783.60" stroke="#D25A43" stroke-width="1.4" fill="none"/>
<path d="M1345.44 776.62L1359.04 790.22M1345.44 790.22L1359.04 776.62" stroke="#D25A43" stroke-width="1.4" fill="none"/>
<path d="M1393.36 774.87L1406.96 788.47M1393.36 788.47L1406.96 774.87" stroke="#D25A43" stroke-width="1.4" fill="none"/>
<path d="M1441.28 778.36L1454.88 791.96M1441.28 791.96L1454.88 778.36" stroke="#D25A43" stroke-width="1.4" fill="none"/>
<path d="M1489.20 774.87L1502.80 788.47M1489.20 788.47L1502.80 774.87" stroke="#D25A43" stroke-width="1.4" fill="none"/>
<path d="M1537.12 766.14L1550.72 779.74M1537.12 779.74L1550.72 766.14" stroke="#D25A43" stroke-width="1.4" fill="none"/>
<path d="M1585.04 771.38L1598.64 784.98M1585.04 784.98L1598.64 771.38" stroke="#D25A43" stroke-width="1.4" fill="none"/>
<path d="M1632.96 774.87L1646.56 788.47M1632.96 788.47L1646.56 774.87" stroke="#D25A43" stroke-width="1.4" fill="none"/>
<path d="M1680.88 769.64L1694.48 783.24M1680.88 783.24L1694.48 769.64" stroke="#D25A43" stroke-width="1.4" fill="none"/>
<path d="M1728.80 773.13L1742.40 786.73M1728.80 786.73L1742.40 773.13" stroke="#D25A43" stroke-width="1.4" fill="none"/>
<rect x="1076.2" y="206.3" width="208.29999999999995" height="139.39999999999998" fill="#fff" stroke="#1a1a1a" stroke-width="1.6"/>
<line x1="1112.1" y1="223.8" x2="1169.4" y2="223.8" stroke="#4472C4" stroke-width="4.2" stroke-linecap="round"/>
<circle cx="1140.75" cy="223.8" r="6.7" fill="#4472C4"/>
<line x1="1110" y1="258.1" x2="1171.5" y2="258.1" stroke="#8B64A6" stroke-width="4.2" stroke-linecap="round" stroke-dasharray="14.3 17.6" stroke-dashoffset="-2.2"/>
<polygon points="1140.75,251.40000000000003 1146.95,258.1 1140.75,264.8 1134.55,258.1" fill="#8B64A6"/>
<line x1="1110" y1="293.2" x2="1171.5" y2="293.2" stroke="#9BBB59" stroke-width="4.2" stroke-linecap="round" stroke-dasharray="0.01 9.1" stroke-dashoffset="-1.8"/>
<polygon points="1140.75,287.0 1147.45,300.0 1134.05,300.0" fill="#9BBB59"/>
<line x1="1112.1" y1="328.0" x2="1169.4" y2="328.0" stroke="#D25A43" stroke-width="4.6" stroke-linecap="round"/>
<line x1="1112.1" y1="328.0" x2="1169.4" y2="328.0" stroke="#F8DDD5" stroke-width="2.0" stroke-linecap="round"/>
<path d="M1133.95 321.2L1147.55 334.8M1133.95 334.8L1147.55 321.2" stroke="#D25A43" stroke-width="1.5" fill="none"/>
<text transform="translate(1177.80,232.10) scale(1.07,1)" text-anchor="start" font-family='"Liberation Sans", "Noto Sans CJK JP", sans-serif' font-size="21.2" font-weight="normal" fill="#404040" letter-spacing="1.8" stroke="#404040" stroke-width="0.5">合計</text>
<text transform="translate(1177.80,266.40) scale(1.07,1)" text-anchor="start" font-family='"Liberation Sans", "Noto Sans CJK JP", sans-serif' font-size="21.2" font-weight="normal" fill="#404040" letter-spacing="1.8" stroke="#404040" stroke-width="0.5">高校生</text>
<text transform="translate(1177.80,301.50) scale(1.07,1)" text-anchor="start" font-family='"Liberation Sans", "Noto Sans CJK JP", sans-serif' font-size="21.2" font-weight="normal" fill="#404040" letter-spacing="1.8" stroke="#404040" stroke-width="0.5">中学生</text>
<text transform="translate(1177.80,336.30) scale(1.07,1)" text-anchor="start" font-family='"Liberation Sans", "Noto Sans CJK JP", sans-serif' font-size="21.2" font-weight="normal" fill="#404040" letter-spacing="1.8" stroke="#404040" stroke-width="0.5">小学生</text>
<text transform="translate(1186.50,1003.00) scale(1.1,1)" text-anchor="start" font-family='"Liberation Sans", "Noto Sans CJK JP", sans-serif' font-size="21.3" font-weight="normal" fill="#111" letter-spacing="1.62" stroke="#111" stroke-width="0.7" stroke-linejoin="round">資料：警察庁自殺統計原票データより厚生労働省作成</text>
<path d="M741.5 821.3 L976.37 821.3 L1697.3 521.5 L1092.97 821.3 L1132.7 821.3 A40 40 0 0 1 1172.7 861.3 L1172.7 1030.3 A40 40 0 0 1 1132.7 1070.3 L741.5 1070.3 A40 40 0 0 1 701.5 1030.3 L701.5 861.3 A40 40 0 0 1 741.5 821.3 Z" fill="url(#cg)" stroke="#4F7FB8" stroke-width="1.0" stroke-linejoin="miter"/>
<text x="938.45" y="900.50" text-anchor="middle" font-family='"Liberation Sans", "Noto Sans CJK JP", sans-serif' font-size="45.5" font-weight="normal" fill="#000" letter-spacing="4.11" stroke="#000" stroke-width="0.3">中高生女子の自殺</text>
<text x="937.35" y="960.90" text-anchor="middle" font-family='"Liberation Sans", "Noto Sans CJK JP", sans-serif' font-size="45.5" font-weight="normal" fill="#000" letter-spacing="1.99" stroke="#000" stroke-width="0.3">者数が増加してい</text>
<text x="937.93" y="1021.30" text-anchor="middle" font-family='"Liberation Sans", "Noto Sans CJK JP", sans-serif' font-size="45.5" font-weight="normal" fill="#000" letter-spacing="2.26" stroke="#000" stroke-width="0.3">るのが特徴である</text>
</svg>
</body>
</html>
